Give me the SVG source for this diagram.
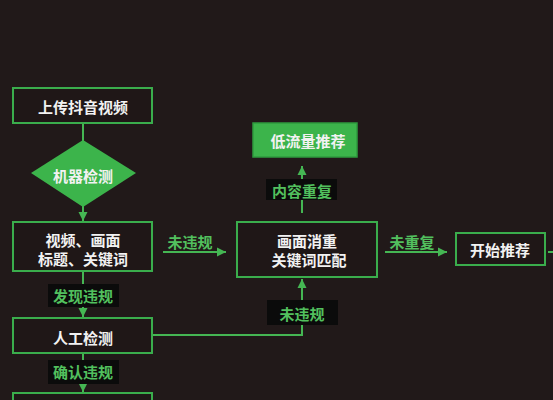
<svg xmlns="http://www.w3.org/2000/svg" width="553" height="400" viewBox="0 0 553 400">
<defs>
<marker id="ah" markerUnits="userSpaceOnUse" markerWidth="10" markerHeight="10" refX="9" refY="5" orient="auto">
<path d="M0,0.5 L9,5 L0,9.5 z" fill="#45b653"/>
</marker>
<style>
.box{fill:#1f1717;stroke:#3aad4c;stroke-width:2}
.gbox{fill:#3cb44b;stroke:#2e9a3e;stroke-width:1.5}
.lbl{fill:#0b0b0b}
.wt{fill:#f2f2f2;font-family:"Noto Sans CJK SC","Noto Sans",sans-serif;font-size:15px;font-weight:700;text-anchor:middle;dominant-baseline:central}
.gt{fill:#52c05e;font-family:"Noto Sans CJK SC","Noto Sans",sans-serif;font-size:15px;font-weight:700;text-anchor:middle;dominant-baseline:central}
.ln{fill:none;stroke:#45b653;stroke-width:2}
</style>
</defs>
<rect width="553" height="400" fill="#211919"/>
<g id="connectors">
<path class="ln" d="M83,123 V141"/>
<path class="ln" d="M83,206 V221" marker-end="url(#ah)"/>
<path class="ln" d="M83,271 V285"/>
<path class="ln" d="M83,306 V317" marker-end="url(#ah)"/>
<path class="ln" d="M83,353 V361"/>
<path class="ln" d="M83,383 V392" marker-end="url(#ah)"/>
<path class="ln" d="M163,252 H226" marker-end="url(#ah)"/>
<path class="ln" d="M152,335 H302 V324"/>
<path class="ln" d="M302,300 V279" marker-end="url(#ah)"/>
<path class="ln" d="M302,213 V200"/>
<path class="ln" d="M302,180 V166" marker-end="url(#ah)"/>
<path class="ln" d="M385,252 H447" marker-end="url(#ah)"/>
<path class="ln" d="M548,252 H553"/>
</g>
<g id="upload">
<rect class="box" x="13" y="88" width="139" height="35"/>
<text class="wt" x="83" y="106">上传抖音视频</text>
</g>
<g id="machine">
<polygon points="83,140 136,173 83,207 31,173" fill="#3cb44b"/>
<text class="wt" x="83" y="175">机器检测</text>
</g>
<g id="content">
<rect class="box" x="13" y="222" width="139" height="49"/>
<text class="wt" x="83" y="239">视频、画面</text>
<text class="wt" x="83" y="258">标题、关键词</text>
</g>
<g id="label-found">
<rect class="lbl" x="48" y="284" width="71" height="23"/>
<text class="gt" x="83" y="295">发现违规</text>
</g>
<g id="manual">
<rect class="box" x="13" y="318" width="139" height="35"/>
<text class="wt" x="83" y="337">人工检测</text>
</g>
<g id="label-confirm">
<rect class="lbl" x="48" y="360" width="71" height="24"/>
<text class="gt" x="83" y="371">确认违规</text>
</g>
<g id="bottom">
<rect class="box" x="13" y="393" width="139" height="20"/>
</g>
<g id="label-ok1">
<text class="gt" x="190" y="241">未违规</text>
</g>
<g id="dedup">
<rect class="box" x="237" y="222" width="140" height="55"/>
<text class="wt" x="307" y="240">画面消重</text>
<text class="wt" x="309" y="259">关键词匹配</text>
</g>
<g id="label-ok2">
<rect class="lbl" x="267" y="300" width="71" height="25"/>
<text class="gt" x="302" y="313">未违规</text>
</g>
<g id="label-dup">
<rect class="lbl" x="266" y="179" width="71" height="21"/>
<text class="gt" x="302" y="190">内容重复</text>
</g>
<g id="low">
<rect class="gbox" x="253" y="123" width="104" height="34"/>
<text class="wt" x="308" y="140">低流量推荐</text>
</g>
<g id="label-nodup">
<text class="gt" x="412" y="241">未重复</text>
</g>
<g id="start">
<rect class="box" x="456" y="233" width="89" height="32"/>
<text class="wt" x="500" y="249">开始推荐</text>
</g>
</svg>
